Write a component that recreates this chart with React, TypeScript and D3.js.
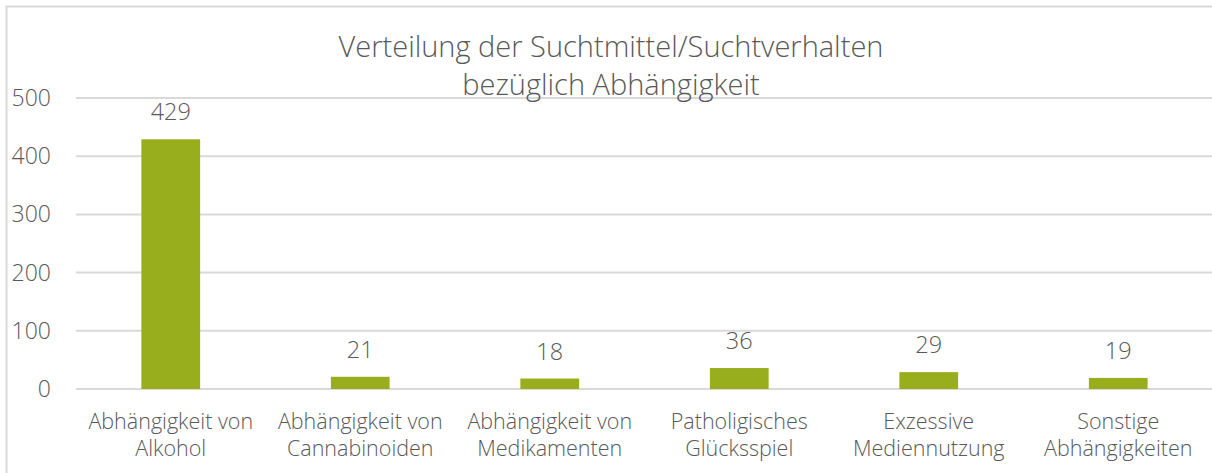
import React from 'react'
import * as d3 from 'd3'

const categories = [
  ['Abhängigkeit von', 'Alkohol'],
  ['Abhängigkeit von', 'Cannabinoiden'],
  ['Abhängigkeit von', 'Medikamenten'],
  ['Patholigisches', 'Glücksspiel'],
  ['Exzessive', 'Mediennutzung'],
  ['Sonstige', 'Abhängigkeiten'],
]
const values = [429, 21, 18, 36, 29, 19]
const yTicks = [0, 100, 200, 300, 400, 500]
const titleLines = ['Verteilung der Suchtmittel/Suchtverhalten', 'bezüglich Abhängigkeit']

const width = 1212
const height = 473
const plot = {left: 76, right: 1213, top: 98, bottom: 389}
const font = '"Open Sans", sans-serif'
const textColor = '#595959'
const gridColor = '#d9d9d9'
const barColor = '#98ae1c'

export default function App() {
  const keys = categories.map((c, i) => String(i))
  const x = d3.scaleBand<string>()
    .domain(keys)
    .range([plot.left, plot.right])
    .paddingInner(0.69)
    .paddingOuter(0.345)
  const y = d3.scaleLinear().domain([0, 500]).range([plot.bottom, plot.top])

  return (
    <div style={{position: 'absolute', left: 0, top: 0}}>
      <svg width={width} height={height} style={{display: 'block', fontFamily: font}}>
        <rect x={0} y={0} width={width} height={height} fill="#fff" />
        {/* chart area border, cut off on the right and bottom */}
        <path d={`M6.5,${height} V6.5 H${width}`} fill="none" stroke={gridColor} strokeWidth={2} />

        {yTicks.map(t => (
          <g key={t}>
            <line x1={plot.left} x2={width} y1={y(t)} y2={y(t)} stroke={gridColor} strokeWidth={2} />
            <text x={51} y={y(t)} dy="0.35em" textAnchor="end" fontSize={23} fontWeight={300} fill={textColor}>
              {t}
            </text>
          </g>
        ))}

        {values.map((v, i) => (
          <g key={i}>
            <rect x={x(keys[i])} y={y(v)} width={x.bandwidth()} height={y(0) - y(v)} fill={barColor} />
            <text x={x(keys[i])! + x.bandwidth() / 2} y={y(v) - 19} textAnchor="middle" fontSize={23.5} fontWeight={300} fill={textColor}>
              {v}
            </text>
          </g>
        ))}

        {categories.map((lines, i) => (
          <text key={i} textAnchor="middle" fontSize={21.5} fontWeight={300} fill={textColor}>
            {lines.map((l, j) => (
              <tspan key={j} x={x(keys[i])! + x.bandwidth() / 2} y={429 + j * 27}>{l}</tspan>
            ))}
          </text>
        ))}

        <text textAnchor="middle" fontSize={29} fontWeight={300} fill={textColor}>
          {titleLines.map((l, j) => (
            <tspan key={j} x={611} y={57 + j * 38}>{l}</tspan>
          ))}
        </text>
      </svg>
    </div>
  )
}
